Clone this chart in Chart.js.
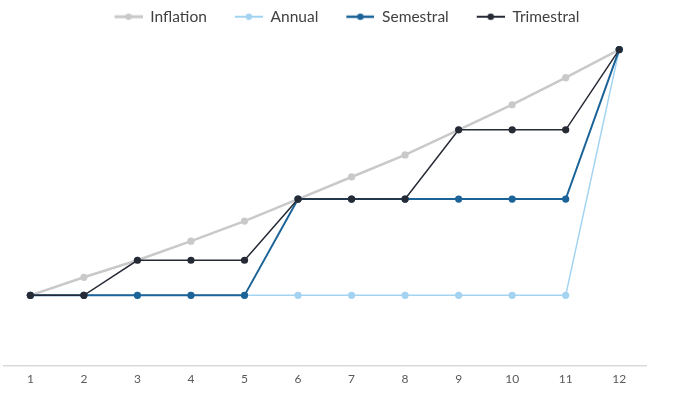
<!DOCTYPE html>
<html>
<head>
<meta charset="utf-8">
<script src="https://cdn.jsdelivr.net/npm/chart.js@4/dist/chart.umd.min.js"></script>
<style>
  html, body { margin: 0; padding: 0; background: #ffffff; }
  #wrap { width: 697px; height: 394px; position: relative; }
</style>
</head>
<body>
<div id="wrap"><canvas id="c"></canvas></div>
<script>
const categories = ['1','2','3','4','5','6','7','8','9','10','11','12'];
const seriesNames = ['Inflation', 'Annual', 'Semestral', 'Trimestral'];
const inflation  = [70, 88, 105, 124, 144, 166, 188, 210, 235, 260, 287, 315];
const annual     = [70, 70, 70, 70, 70, 70, 70, 70, 70, 70, 70, 315];
const semestral  = [70, 70, 70, 70, 70, 166, 166, 166, 166, 166, 166, 315];
const trimestral = [70, 70, 105, 105, 105, 166, 166, 166, 235, 235, 235, 315];

const colors = ['#c9c9c9', '#a3d3f1', '#1c6498', '#262a35'];
const widths = [2.5, 1.5, 2, 1.5];
const drawOrder = [3, 2, 1, 0];
const seriesData = [inflation, annual, semestral, trimestral];

const LEAD = 19;   // blank space before each legend marker
const MARK = 28;   // marker length
function legendMarker(color, lw) {
  const c = document.createElement('canvas');
  c.width = LEAD + MARK; c.height = 10;
  const g = c.getContext('2d');
  g.strokeStyle = color; g.lineWidth = lw + 0.5;
  g.beginPath(); g.moveTo(LEAD, 5); g.lineTo(LEAD + MARK, 5); g.stroke();
  g.fillStyle = color;
  g.beginPath(); g.arc(LEAD + MARK / 2, 5, 3.2, 0, Math.PI * 2); g.fill();
  return c;
}
const markers = colors.map((c, i) => legendMarker(c, widths[i]));

const datasets = seriesNames.map((name, i) => ({
  label: name,
  data: seriesData[i],
  borderColor: colors[i],
  backgroundColor: colors[i],
  borderWidth: widths[i],
  pointRadius: 3.6,
  pointHoverRadius: 3.6,
  pointBorderWidth: 0,
  pointBackgroundColor: colors[i],
  tension: 0,
  order: drawOrder[i]
}));

new Chart(document.getElementById('c'), {
  type: 'line',
  data: { labels: categories, datasets },
  options: {
    responsive: true,
    maintainAspectRatio: false,
    animation: false,
    layout: { padding: { left: 0, right: 22, top: 0, bottom: 2 } },
    plugins: {
      tooltip: { enabled: false },
      legend: {
        display: true,
        position: 'top',
        labels: {
          usePointStyle: true,
          pointStyleWidth: LEAD + MARK,
          boxHeight: 10,
          padding: 9,
          color: '#404040',
          font: { family: 'Lato', size: 15.5 },
          sort: (a, b) => a.datasetIndex - b.datasetIndex,
          generateLabels(chart) {
            const items = Chart.defaults.plugins.legend.labels.generateLabels(chart);
            items.forEach((it) => { it.pointStyle = markers[it.datasetIndex]; });
            return items;
          }
        }
      }
    },
    scales: {
      x: {
        offset: true,
        grid: { display: false, drawTicks: false },
        border: { display: true, color: '#d9d9d9', width: 1.5 },
        ticks: { color: '#595959', font: { family: 'Lato', size: 12 }, padding: 6 }
      },
      y: {
        display: true,
        position: 'right',
        min: 0,
        max: 330,
        grid: { display: false, drawTicks: false },
        border: { display: false },
        ticks: { display: false },
        afterFit: (s) => { s.width = 29; }
      }
    }
  }
});
</script>
</body>
</html>
